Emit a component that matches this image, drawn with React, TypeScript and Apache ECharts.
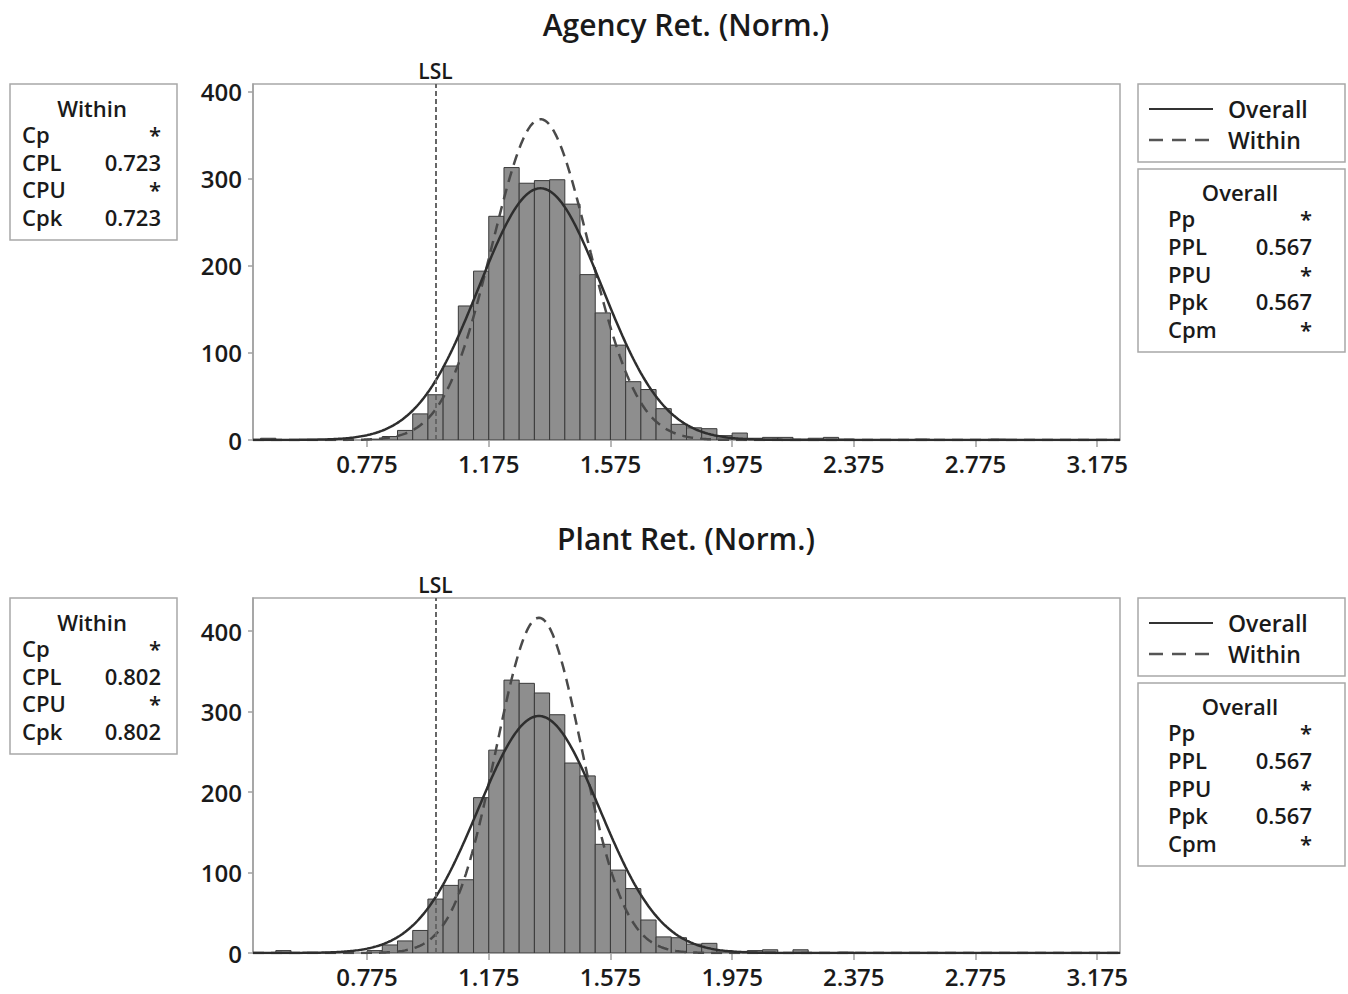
import React, { useEffect, useRef } from "react";
import * as echarts from "echarts";

const FONT = "'Open Sans', 'Noto Sans', sans-serif";

// ---------- data ----------
const BIN = 0.05;
const LSL = 1.0;
const xTicks = [0.775, 1.175, 1.575, 1.975, 2.375, 2.775, 3.175];
const yTicks = [0, 100, 200, 300, 400];

const agencyCenters = [0.45, 0.8, 0.85, 0.9, 0.95, 1.0, 1.05, 1.1, 1.15, 1.2, 1.25, 1.3, 1.35, 1.4, 1.45, 1.5, 1.55, 1.6, 1.65, 1.7, 1.75, 1.8, 1.85, 1.9, 1.95, 2.0, 2.05, 2.1, 2.15, 2.2, 2.25, 2.3, 2.35, 2.6, 2.85];
const agencyCounts = [2, 1, 4, 11, 30, 52, 85, 154, 194, 257, 313, 295, 298, 299, 271, 190, 146, 109, 67, 58, 36, 18, 14, 13, 5, 8, 2, 3, 3, 1, 2, 3, 1, 1, 1];

const plantCenters = [0.5, 0.8, 0.85, 0.9, 0.95, 1.0, 1.05, 1.1, 1.15, 1.2, 1.25, 1.3, 1.35, 1.4, 1.45, 1.5, 1.55, 1.6, 1.65, 1.7, 1.75, 1.8, 1.85, 1.9, 1.95, 2.0, 2.05, 2.1, 2.2, 2.35];
const plantCounts = [3, 3, 10, 15, 28, 67, 84, 91, 193, 252, 339, 335, 323, 296, 236, 220, 135, 103, 80, 41, 20, 19, 11, 12, 3, 2, 3, 4, 4, 1];

// fitted normal parameters (mean, overall sigma, within sigma, sample size)
const agencyFit = { mean: 1.345, sdOverall: 0.2028, sdWithin: 0.1591, n: 2940 };
const plantFit = { mean: 1.34, sdOverall: 0.1999, sdWithin: 0.1413, n: 2950 };

const withinLabels = ["Cp", "CPL", "CPU", "Cpk"];
const agencyWithin = ["*", "0.723", "*", "0.723"];
const plantWithin = ["*", "0.802", "*", "0.802"];
const overallLabels = ["Pp", "PPL", "PPU", "Ppk", "Cpm"];
const agencyOverall = ["*", "0.567", "*", "0.567", "*"];
const plantOverall = ["*", "0.567", "*", "0.567", "*"];

const titles = ["Agency Ret. (Norm.)", "Plant Ret. (Norm.)"];
const yMax = [409, 441];
const X_MIN = 0.4;
const X_MAX = 3.25;

function curve(fit: { mean: number; n: number }, sd: number): number[][] {
  const pts: number[][] = [];
  for (let i = 0; i <= 570; i++) {
    const x = X_MIN + i * 0.005;
    const z = (x - fit.mean) / sd;
    pts.push([x, (fit.n * BIN * Math.exp(-0.5 * z * z)) / (sd * Math.sqrt(2 * Math.PI))]);
  }
  return pts;
}

const TEXT = "#1a1a1a";
const W = 600;

function panelGraphics(dy: number, title: string, within: string[], overall: string[]) {
  const els: any[] = [];
  const t = (text: string, x: number, y: number, size: number, align = "left") => ({
    type: "text",
    x,
    y,
    silent: true,
    style: { text, fill: TEXT, font: `${W} ${size}px ${FONT}`, align, verticalAlign: "middle" },
  });
  els.push(t(title, 686, 24 + dy, 30, "center"));
  // left box
  els.push({ type: "rect", shape: { x: 10, y: 84 + dy, width: 167, height: 156 }, style: { fill: "#fff", stroke: "#a8a8a8", lineWidth: 1.5 } });
  els.push(t("Within", 92, 108 + dy, 22, "center"));
  withinLabels.forEach((lab, i) => {
    const y = 134 + dy + i * 27.7;
    els.push(t(lab, 22, y, 22));
    els.push(t(within[i], 161, y, 22, "right"));
  });
  // legend box
  els.push({ type: "rect", shape: { x: 1138, y: 84 + dy, width: 207, height: 78 }, style: { fill: "#fff", stroke: "#a8a8a8", lineWidth: 1.5 } });
  els.push({ type: "line", shape: { x1: 1149, y1: 109 + dy, x2: 1213, y2: 109 + dy }, style: { stroke: "#333", lineWidth: 2 } });
  els.push({ type: "line", shape: { x1: 1149, y1: 140 + dy, x2: 1213, y2: 140 + dy }, style: { stroke: "#555", lineWidth: 2.5, lineDash: [14, 9] } });
  els.push(t("Overall", 1228, 109 + dy, 23));
  els.push(t("Within", 1228, 140 + dy, 23));
  // overall box
  els.push({ type: "rect", shape: { x: 1138, y: 169 + dy, width: 207, height: 183 }, style: { fill: "#fff", stroke: "#a8a8a8", lineWidth: 1.5 } });
  els.push(t("Overall", 1240, 192 + dy, 22, "center"));
  overallLabels.forEach((lab, i) => {
    const y = 218 + dy + i * 27.8;
    els.push(t(lab, 1168, y, 22));
    els.push(t(overall[i], 1312, y, 22, "right"));
  });
  return els;
}

function barSeries(idx: number, centers: number[], counts: number[]) {
  return {
    type: "custom",
    xAxisIndex: idx,
    yAxisIndex: idx,
    clip: true,
    encode: { x: 0, y: 1 },
    data: centers.map((c, i) => [c, counts[i]]),
    renderItem: (_p: any, api: any) => {
      const c = api.value(0);
      const h = api.value(1);
      const p0 = api.coord([c - BIN / 2, h]);
      const p1 = api.coord([c + BIN / 2, 0]);
      return {
        type: "rect",
        shape: { x: p0[0], y: p0[1], width: p1[0] - p0[0], height: p1[1] - p0[1] },
        style: { fill: "#8e8e8e", stroke: "#3a3a3a", lineWidth: 1 },
      };
    },
  };
}

function lineSeries(idx: number, data: number[][], dashed: boolean, withLsl: boolean) {
  const s: any = {
    type: "line",
    xAxisIndex: idx,
    yAxisIndex: idx,
    data,
    showSymbol: false,
    symbol: "none",
    silent: true,
    clip: true,
    lineStyle: dashed
      ? { color: "#4a4a4a", width: 2.5, type: [11, 7] }
      : { color: "#2e2e2e", width: 2.5, type: "solid" },
  };
  if (withLsl) {
    s.markLine = {
      silent: true,
      symbol: "none",
      lineStyle: { color: "#666", width: 2, type: [5, 3] },
      label: { show: true, position: "end", formatter: "LSL", fontSize: 21, fontWeight: W, color: TEXT, fontFamily: FONT, distance: 0, padding: [0, 0, 3, 0] },
      data: [{ xAxis: LSL }],
    };
  }
  return s;
}

export default function App() {
  const ref = useRef<HTMLDivElement>(null);
  useEffect(() => {
    if (!ref.current) return;
    const chart = echarts.init(ref.current, null, { renderer: "svg" });
    const grids = [
      { left: 253, top: 84, width: 867, height: 356 },
      { left: 253, top: 598, width: 867, height: 355 },
    ].map((g) => ({ ...g, show: true, borderColor: "#a8a8a8", borderWidth: 1.5, backgroundColor: "#fff" }));

    const xAxes = [0, 1].map((i) => ({
      type: "value",
      gridIndex: i,
      min: X_MIN,
      max: X_MAX,
      axisLine: { show: true, onZero: false, lineStyle: { color: "#a0a0a0", width: 1.5 } },
      axisTick: { show: true, length: 7, customValues: xTicks, lineStyle: { color: "#a0a0a0", width: 1.5 } },
      axisLabel: {
        customValues: xTicks,
        formatter: (v: number) => v.toFixed(3),
        fontSize: 24,
        fontWeight: W,
        color: TEXT,
        fontFamily: FONT,
        margin: 11,
      },
      splitLine: { show: false },
    }));
    const yAxes = [0, 1].map((i) => ({
      type: "value",
      gridIndex: i,
      min: 0,
      max: yMax[i],
      axisLine: { show: true, lineStyle: { color: "#a0a0a0", width: 1.5 } },
      axisTick: { show: true, length: 5, customValues: yTicks, lineStyle: { color: "#a0a0a0", width: 1.5 } },
      axisLabel: { customValues: yTicks, fontSize: 24, fontWeight: W, color: TEXT, fontFamily: FONT, margin: 11 },
      splitLine: { show: false },
    }));

    chart.setOption({
      animation: false,
      backgroundColor: "#fff",
      textStyle: { fontFamily: FONT },
      grid: grids,
      xAxis: xAxes,
      yAxis: yAxes,
      series: [
        barSeries(0, agencyCenters, agencyCounts),
        lineSeries(0, curve(agencyFit, agencyFit.sdWithin), true, true),
        lineSeries(0, curve(agencyFit, agencyFit.sdOverall), false, false),
        barSeries(1, plantCenters, plantCounts),
        lineSeries(1, curve(plantFit, plantFit.sdWithin), true, true),
        lineSeries(1, curve(plantFit, plantFit.sdOverall), false, false),
      ],
      graphic: [
        ...panelGraphics(0, titles[0], agencyWithin, agencyOverall),
        ...panelGraphics(514, titles[1], plantWithin, plantOverall),
      ],
    });
    return () => chart.dispose();
  }, []);
  return <div ref={ref} style={{ position: "absolute", left: 0, top: 0, width: 1348, height: 994 }} />;
}
